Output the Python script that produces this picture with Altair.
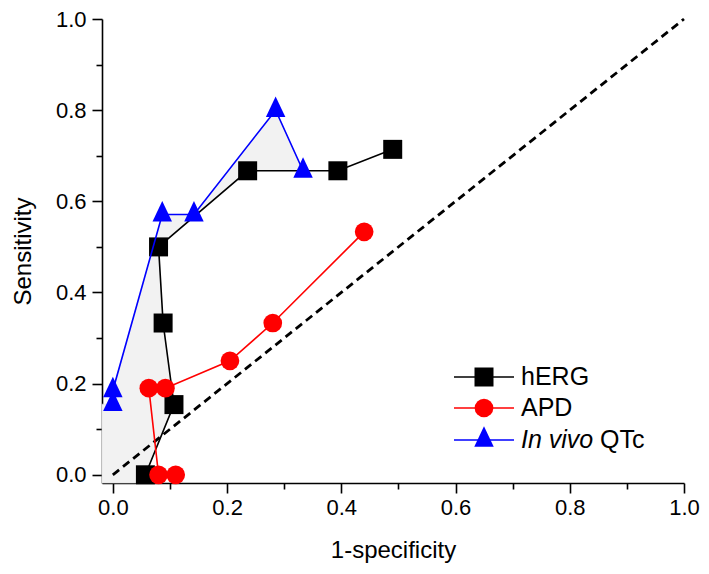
import altair as alt
import pandas as pd

# ---- data ----
herg_x = [0.490, 0.394, 0.236, 0.080, 0.088, 0.107, 0.057]
herg_y = [0.714, 0.667, 0.667, 0.500, 0.333, 0.154, 0.000]

apd_x = [0.440, 0.280, 0.205, 0.092, 0.063, 0.080, 0.110]
apd_y = [0.533, 0.333, 0.250, 0.190, 0.190, 0.000, 0.000]

qtc_x = [0.000, 0.000, 0.0865, 0.142, 0.285, 0.333]
qtc_y = [0.155, 0.185, 0.571, 0.571, 0.800, 0.667]

diag_x = [0.0, 1.0]
diag_y = [0.0, 1.0]

tick_values = [0.0, 0.1, 0.2, 0.3, 0.4, 0.5, 0.6, 0.7, 0.8, 0.9, 1.0]

X_MIN, X_MAX = -0.019, 1.0
Y_MIN, Y_MAX = -0.018, 1.0

# shaded region between the in-vivo and hERG curves
fill_x = qtc_x + herg_x[2:] + [herg_x[-1], X_MIN, X_MIN]
fill_y = qtc_y + herg_y[2:] + [Y_MIN, Y_MIN, qtc_y[0]]


def frame(xs, ys):
    return pd.DataFrame({"x": xs, "y": ys, "i": list(range(len(xs)))})


FONT = "Liberation Sans"
tick_size = {"condition": {"test": "round(datum.value*10) % 2 == 1", "value": 6}, "value": 10}
label_expr = "round(datum.value*10) % 2 == 0 ? format(datum.value, '.1f') : ''"

common_axis = dict(
    values=tick_values, labelExpr=label_expr, tickSize=tick_size, grid=False,
    domainColor="black", domainWidth=1.6, tickColor="black", tickWidth=1.6,
    labelFont=FONT, labelFontSize=22, labelColor="black",
    titleFont=FONT, titleFontSize=24, titleFontWeight="normal", titleColor="black",
    labelOverlap=False, labelFlush=False,
)

x_enc = alt.X("x:Q", title="1-specificity",
              scale=alt.Scale(domain=[X_MIN, X_MAX], nice=False, zero=False),
              axis=alt.Axis(labelPadding=4, titlePadding=20, **common_axis))
y_enc = alt.Y("y:Q", title="Sensitivity",
              scale=alt.Scale(domain=[Y_MIN, Y_MAX], nice=False, zero=False),
              axis=alt.Axis(labelPadding=6, titlePadding=20, **common_axis))
order = alt.Order("i:Q")

TRI = "M0,-1.33L-0.95,0.67L0.95,0.67Z"

fill = alt.Chart(frame(fill_x, fill_y)).mark_line(
    fill="#f2f2f2", stroke="#dcdcdc", strokeWidth=0.6, interpolate="linear-closed"
).encode(x=x_enc, y=y_enc, order=order)

diag = alt.Chart(frame(diag_x, diag_y)).mark_line(
    color="black", strokeWidth=2.8, strokeDash=[8, 5]
).encode(x=x_enc, y=y_enc, order=order)


def series(xs, ys, color, shape, size):
    d = frame(xs, ys)
    line = alt.Chart(d).mark_line(color=color, strokeWidth=1.6).encode(x=x_enc, y=y_enc, order=order)
    pts = alt.Chart(d).mark_point(shape=shape, filled=True, color=color, size=size, opacity=1).encode(
        x=x_enc, y=y_enc)
    return [line, pts]


layers = [fill, diag]
layers += series(herg_x, herg_y, "black", "square", 361)
layers += series(apd_x, apd_y, "#ff0000", "circle", 350)
layers += series(qtc_x, qtc_y, "#0000ff", TRI, 420)

# ---- legend (drawn inside the plot) ----
one = pd.DataFrame({"k": [0]})
LX1, LX2, LSYM, LTXT = 352, 412, 382, 419
rows = [
    (358, "black", "square", 361, [("hERG", "normal", 0)]),
    (389, "#ff0000", "circle", 350, [("APD", "normal", 0)]),
    (421, "#0000ff", TRI, 420, [("In vivo", "italic", 0), ("QTc", "normal", 79)]),
]
for ry, col, shp, sz, texts in rows:
    layers.append(alt.Chart(one).mark_rule(color=col, strokeWidth=1.6).encode(
        x=alt.value(LX1), x2=alt.value(LX2), y=alt.value(ry)))
    layers.append(alt.Chart(one).mark_point(shape=shp, filled=True, color=col, size=sz, opacity=1).encode(
        x=alt.value(LSYM), y=alt.value(ry)))
    for txt, style, dx in texts:
        layers.append(alt.Chart(one).mark_text(
            text=txt, align="left", baseline="middle", font=FONT, fontSize=25,
            fontStyle=style, color="black").encode(x=alt.value(LTXT + dx), y=alt.value(ry)))

chart = alt.layer(*layers).properties(
    width=582, height=464,
    autosize=alt.AutoSizeParams(type="none"),
    padding={"left": 94, "top": 11, "right": 17, "bottom": 80},
).configure_view(stroke=None)

chart.save("out.html", embed_options={"renderer": "svg", "actions": False})
